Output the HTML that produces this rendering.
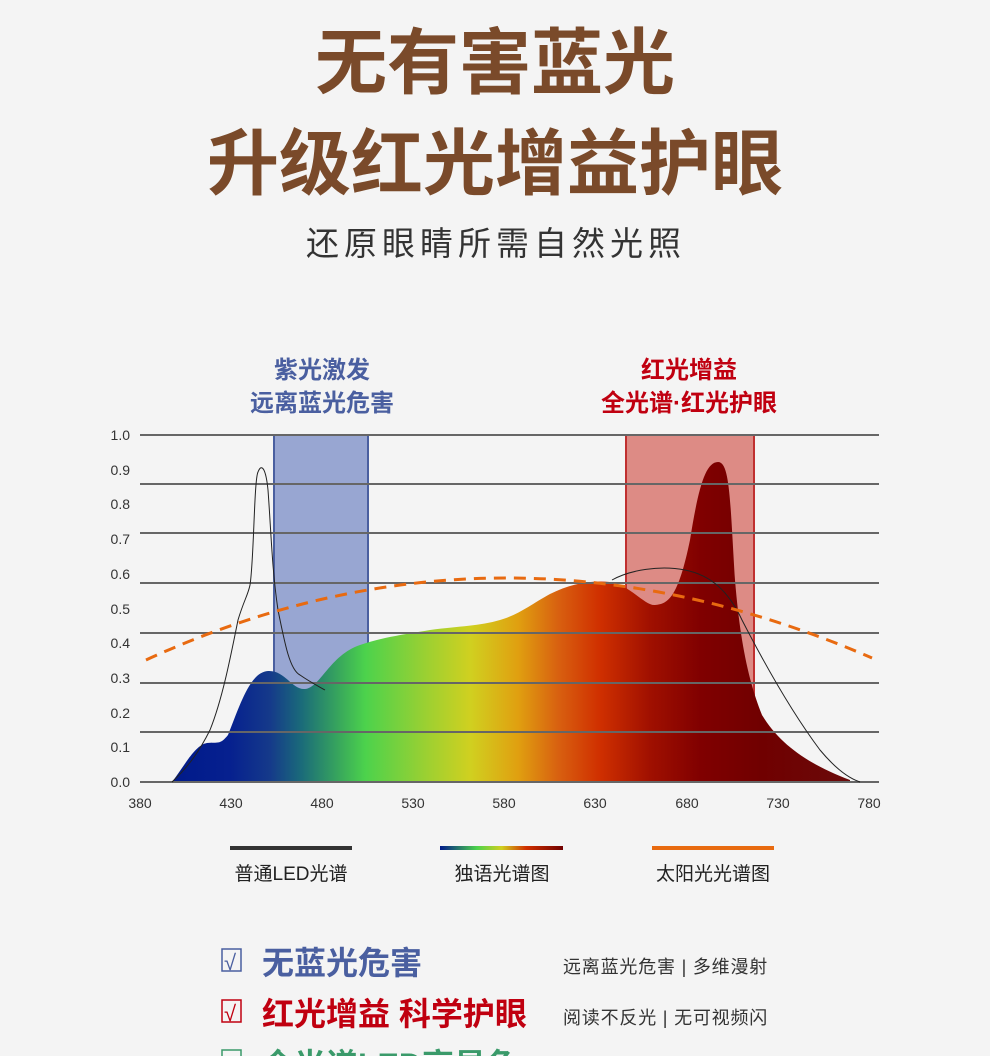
<!DOCTYPE html>
<html><head><meta charset="utf-8"><style>
body{margin:0;background:#f4f4f4;}
svg{display:block}
text{font-family:"Liberation Sans","Noto Sans CJK SC",sans-serif}
</style></head><body>
<svg width="990" height="1056" viewBox="0 0 990 1056" xmlns="http://www.w3.org/2000/svg">
<defs>
<linearGradient id="sp" gradientUnits="userSpaceOnUse" x1="172" y1="0" x2="850" y2="0">
<stop offset="0" stop-color="#001a8a"/>
<stop offset="0.085" stop-color="#06208f"/>
<stop offset="0.145" stop-color="#153a8a"/>
<stop offset="0.19" stop-color="#1a6a7a"/>
<stop offset="0.25" stop-color="#3aab5a"/>
<stop offset="0.285" stop-color="#4cd24c"/>
<stop offset="0.38" stop-color="#a0d030"/>
<stop offset="0.44" stop-color="#d0d020"/>
<stop offset="0.51" stop-color="#e0a010"/>
<stop offset="0.57" stop-color="#d86010"/>
<stop offset="0.63" stop-color="#d03000"/>
<stop offset="0.705" stop-color="#a01000"/>
<stop offset="0.78" stop-color="#800000"/>
<stop offset="0.87" stop-color="#700000"/>
<stop offset="1" stop-color="#6a0a0a"/>
</linearGradient>
<linearGradient id="lg" x1="0" x2="1">
<stop offset="0" stop-color="#001a8a"/><stop offset="0.3" stop-color="#4cd24c"/><stop offset="0.5" stop-color="#d0d020"/><stop offset="0.7" stop-color="#d03000"/><stop offset="1" stop-color="#700000"/>
</linearGradient>
</defs>
<g font-weight="bold" fill="#7a4a2a" text-anchor="middle">
<text x="495" y="88" font-size="72">无有害蓝光</text>
<text x="495" y="189" font-size="72">升级红光增益护眼</text>
</g>
<text x="496" y="255" font-size="33" letter-spacing="5" fill="#333" text-anchor="middle">还原眼睛所需自然光照</text>
<g font-size="24" font-weight="bold" text-anchor="middle">
<text x="322" y="378" fill="#4a5fa0">紫光激发</text>
<text x="322" y="411" fill="#4a5fa0">远离蓝光危害</text>
<text x="689" y="378" fill="#c00010">红光增益</text>
<text x="689" y="411" fill="#c00010">全光谱·红光护眼</text>
</g>
<rect x="274" y="435" width="94" height="347" fill="#98a6d2" stroke="#4a5fa0" stroke-width="2"/>
<rect x="626" y="435" width="128" height="347" fill="#dd8b85" stroke="#c03030" stroke-width="2"/>
<path d="M172 782 C185 765 195 745 207 743 C218 742 220 745 228 735 C240 705 250 672 268 671 C285 670 292 690 305 689 C320 688 330 655 360 645 C380 638 400 635 430 630 C460 626 480 626 500 620 C520 614 530 605 550 594 C570 584 590 580 610 582 C630 585 645 606 655 605 C668 604 678 598 690 540 C698 490 705 462 718 462 C730 462 730 500 735 580 C740 640 748 680 762 715 C780 745 810 765 850 780 L850 782 Z" fill="url(#sp)"/>
<g stroke="#666" stroke-width="2">
<line x1="140" y1="435" x2="879" y2="435"/>
<line x1="140" y1="484" x2="879" y2="484"/>
<line x1="140" y1="533" x2="879" y2="533"/>
<line x1="140" y1="583" x2="879" y2="583"/>
<line x1="140" y1="633" x2="879" y2="633"/>
<line x1="140" y1="683" x2="879" y2="683"/>
<line x1="140" y1="732" x2="879" y2="732"/>
<line x1="140" y1="782" x2="879" y2="782"/>
</g>
<path d="M172 782 C190 765 200 750 210 730 C222 700 230 660 238 620 C244 600 248 595 250 585 C254 560 254 480 258 472 C262 462 266 470 268 490 C271 530 272 570 278 610 C285 645 290 670 300 675 C310 682 318 686 325 690" fill="none" stroke="#222" stroke-width="1"/>
<path d="M612 580 C630 570 660 565 685 570 C710 575 728 590 742 620 C760 655 790 710 820 750 C835 768 848 778 860 782" fill="none" stroke="#222" stroke-width="1"/>
<path d="M146 660 Q500 497 872 658" fill="none" stroke="#e86a10" stroke-width="3" stroke-dasharray="12,8"/>
<g font-size="14" fill="#333" text-anchor="end">
<text x="130" y="440">1.0</text><text x="130" y="475">0.9</text><text x="130" y="509">0.8</text><text x="130" y="544">0.7</text><text x="130" y="579">0.6</text><text x="130" y="614">0.5</text><text x="130" y="648">0.4</text><text x="130" y="683">0.3</text><text x="130" y="718">0.2</text><text x="130" y="752">0.1</text><text x="130" y="787">0.0</text>
</g>
<g font-size="14" fill="#333" text-anchor="middle">
<text x="140" y="808">380</text><text x="231" y="808">430</text><text x="322" y="808">480</text><text x="413" y="808">530</text><text x="504" y="808">580</text><text x="595" y="808">630</text><text x="687" y="808">680</text><text x="778" y="808">730</text><text x="869" y="808">780</text>
</g>
<line x1="230" y1="848" x2="352" y2="848" stroke="#333" stroke-width="4"/>
<rect x="440" y="846" width="123" height="4" fill="url(#lg)"/>
<line x1="652" y1="848" x2="774" y2="848" stroke="#e86a10" stroke-width="4"/>
<g font-size="19" fill="#222" text-anchor="middle">
<text x="291" y="880">普通LED光谱</text>
<text x="502" y="880">独语光谱图</text>
<text x="713" y="880">太阳光光谱图</text>
</g>
<rect x="222" y="949" width="19" height="22" fill="none" stroke="#4a5fa0" stroke-width="1.5"/>
<text x="224" y="970" font-size="22" fill="#4a5fa0" font-family="Liberation Serif,serif">√</text>
<text x="262" y="974" font-size="32" fill="#4a5fa0" font-weight="bold">无蓝光危害</text>
<rect x="222" y="1000" width="19" height="22" fill="none" stroke="#c00010" stroke-width="1.5"/>
<text x="224" y="1021" font-size="22" fill="#c00010" font-family="Liberation Serif,serif">√</text>
<text x="262" y="1025" font-size="32" fill="#c00010" font-weight="bold">红光增益 科学护眼</text>
<text x="563" y="973" font-size="18" letter-spacing="0.8" fill="#333">远离蓝光危害 | 多维漫射</text>
<text x="563" y="1024" font-size="18" letter-spacing="0.8" fill="#333">阅读不反光 | 无可视频闪</text>
<rect x="222" y="1050" width="19" height="22" fill="none" stroke="#3a9a6a" stroke-width="1.5"/>
<text x="262" y="1076" font-size="32" fill="#3a9a6a" font-weight="bold">全光谱LED高显色</text>
</svg>
</body></html>
